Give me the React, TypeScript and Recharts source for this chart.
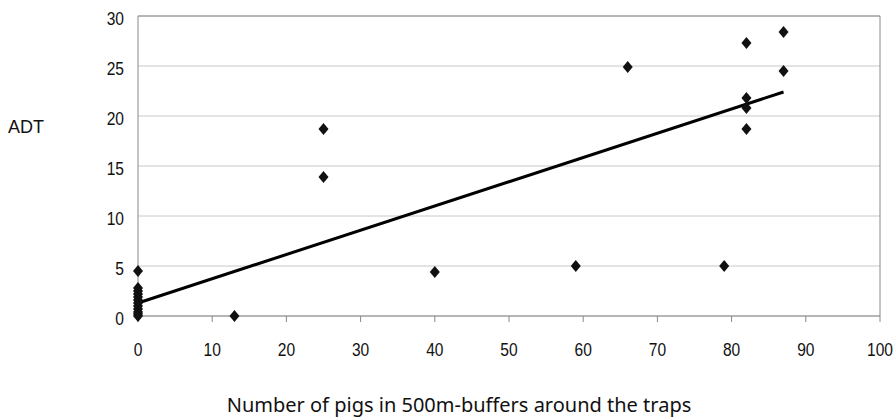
import React from 'react';
import { ComposedChart, Scatter, XAxis, YAxis, CartesianGrid, ReferenceLine } from 'recharts';

const pigs = [0, 0, 0, 0, 0, 0, 0, 0, 0, 0, 0, 0, 13, 25, 25, 40, 59, 66, 79, 82, 82, 82, 82, 87, 87];
const adt = [4.5, 2.8, 2.5, 2.2, 1.9, 1.6, 1.3, 1.0, 0.7, 0.4, 0.2, 0, 0, 18.7, 13.9, 4.4, 5.0, 24.9, 5.0, 27.3, 21.8, 20.8, 18.7, 28.4, 24.5];
const trendX = [0, 87];
const trendY = [1.3, 22.4];
const xTicks = [0, 10, 20, 30, 40, 50, 60, 70, 80, 90, 100];
const yTicks = [0, 5, 10, 15, 20, 25, 30];

const points = pigs.map((x, i) => ({ x, y: adt[i] }));
const trend = trendX.map((x, i) => ({ x, y: trendY[i] }));

const Diamond = (props: any) => {
  const { cx, cy } = props;
  if (cx == null || cy == null) return null;
  return <polygon points={`${cx},${cy - 6} ${cx + 5},${cy} ${cx},${cy + 6} ${cx - 5},${cy}`} fill="#111" />;
};

const FONT = 'Liberation Sans, Arial, sans-serif';

const XTick = (props: any) => {
  const { x, y, payload } = props;
  return (
    <g transform={`translate(${x},${y})`}>
      <text transform="scale(0.82,1)" textAnchor="middle" dy="0.71em" fontFamily={FONT} fontSize={19} fill="#111">
        {payload.value}
      </text>
    </g>
  );
};

const YTick = (props: any) => {
  const { x, y, payload } = props;
  return (
    <g transform={`translate(${x},${y + 2})`}>
      <text transform="scale(0.82,1)" textAnchor="end" dy="0.36em" fontFamily={FONT} fontSize={19} fill="#111">
        {payload.value}
      </text>
    </g>
  );
};

export default function App() {
  return (
    <div style={{ position: 'absolute', left: 0, top: 0, width: 894, height: 419, background: '#fff' }}>
      <ComposedChart width={894} height={419} margin={{ top: 16, right: 14, left: 0, bottom: 0 }}>
        <CartesianGrid vertical={false} stroke="#c8c8c8" />
        <XAxis
          type="number"
          dataKey="x"
          domain={[0, 100]}
          ticks={xTicks}
          interval={0}
          height={103}
          stroke="#888"
          tickSize={6}
          tickMargin={21}
          tick={<XTick />}
          label={{ value: 'Number of pigs in 500m-buffers around the traps', position: 'insideBottom', offset: 7, dx: -50, style: { fontFamily: 'Noto Sans, Open Sans, sans-serif', fontSize: 20, fill: '#111' } }}
        />
        <YAxis
          type="number"
          dataKey="y"
          domain={[0, 30]}
          ticks={yTicks}
          interval={0}
          width={138}
          stroke="#888"
          tickLine={false}
          tickSize={0}
          tickMargin={14}
          tick={<YTick />}
          label={{ value: 'ADT', position: 'insideTopLeft', offset: 0, dx: 8, dy: 104, style: { fontFamily: FONT, fontSize: 18, fill: '#111' } }}
        />
        <ReferenceLine y={30} stroke="#888" />
        <ReferenceLine x={100} stroke="#888" />
        <Scatter data={trend} line={{ stroke: '#000', strokeWidth: 3 }} shape={() => <g />} isAnimationActive={false} />
        <Scatter data={points} shape={Diamond} isAnimationActive={false} />
      </ComposedChart>
    </div>
  );
}
